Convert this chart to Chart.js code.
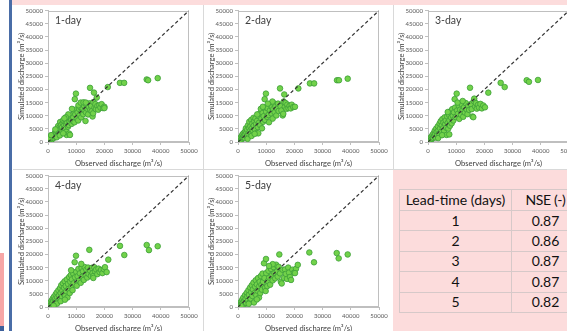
<!DOCTYPE html>
<html>
<head>
<meta charset="utf-8">
<script src="https://cdn.jsdelivr.net/npm/chart.js@4/dist/chart.umd.min.js"></script>
<style>
  html,body{margin:0;padding:0;}
  body{width:567px;height:331px;overflow:hidden;position:relative;background:#fff;font-family:Lato,"Open Sans",sans-serif;}
  .abs{position:absolute;}
  .panel{position:absolute;width:190px;height:164px;}
  .panel canvas{position:absolute;left:0;top:0;}
  .plabel{position:absolute;font-size:10.5px;color:#404040;white-space:nowrap;}
  table.nse{position:absolute;left:399px;top:189px;width:180px;table-layout:fixed;border-collapse:collapse;font-size:14px;color:#111;background:#fcdcdc;white-space:nowrap;}
  table.nse td{border:1px solid #d6c9c9;text-align:center;padding:0;height:20.4px;line-height:18px;box-sizing:border-box;overflow:visible;}
</style>
</head>
<body>
<script>
// ---- data ----
const panelLabels = ['1-day', '2-day', '3-day', '4-day', '5-day'];
const axisTicksX = [0, 10000, 20000, 30000, 40000, 50000];
const axisTicksY = [0, 5000, 10000, 15000, 20000, 25000, 30000, 35000, 40000, 45000, 50000];
const parityLine = [0, 50000];
const tableHeaders = ['Lead-time (days)', 'NSE (-)'];
const leadTimes = [1, 2, 3, 4, 5];
const nseValues = ['0.87', '0.86', '0.87', '0.87', '0.82'];

// observed, simulated discharge pairs (m3/s)
const day1 = [[200,300],[400,600],[600,500],[800,1200],[1000,900],[1200,1500],[1400,2200],[1500,1100],[1700,1900],[1900,2600],[2000,1500],[2200,3000],[2400,2100],[2500,3600],[2700,2600],[2900,4200],[3000,3100],[3200,2400],[3300,5000],[3500,3700],[3600,6100],[3800,4300],[4000,3300],[4100,5600],[4300,7600],[4500,4800],[4600,6400],[4800,3900],[5000,5600],[5200,7200],[5300,8200],[5500,4600],[5700,6300],[5900,7800],[6000,5300],[6200,8600],[6400,6800],[6500,3900],[6600,2700],[6800,7400],[7000,8900],[7100,5800],[7300,6500],[7500,3200],[7700,7800],[7800,2700],[8000,9500],[8200,8300],[8400,6900],[8600,10200],[8800,8000],[9000,9400],[9200,11800],[9400,7500],[9500,16300],[9700,10500],[9900,18400],[10000,12400],[10200,9000],[10500,11300],[10700,8200],[11000,12600],[11200,10200],[11500,13200],[11800,9400],[12000,11700],[12300,12800],[12500,10600],[12800,13800],[13000,12000],[13300,8000],[13500,11200],[13700,14000],[14000,12600],[14200,10500],[14500,13300],[14700,14700],[14900,20600],[15000,12200],[15300,13800],[15500,11700],[15800,9700],[16000,10900],[16100,15200],[16300,18800],[16500,13100],[16800,14400],[17000,12500],[17300,16900],[17500,13700],[17800,12300],[18200,14000],[18600,13100],[19000,14400],[19500,12900],[20000,13400],[20000,12900],[21200,20900],[25500,22500],[27000,22500],[35000,23800],[35500,23500],[38900,24300],[3100,1800],[4200,2500],[5400,3300],[600,1500],[1100,2600],[2600,4800],[7200,10500],[8500,12600],[10800,14000],[11600,15000],[12600,15100],[13400,15000],[6300,9400],[5800,9000]];
const day2 = [[300,500],[500,300],[700,1100],[900,1600],[1100,800],[1300,2300],[1500,1400],[1600,2900],[1800,1800],[2000,3400],[2100,2300],[2300,1600],[2500,4000],[2600,2900],[2800,5200],[3000,3500],[3100,2200],[3300,4600],[3500,6300],[3700,3100],[3900,5300],[4000,7700],[4200,4100],[4400,6000],[4600,3300],[4700,8400],[4900,5100],[5100,7000],[5300,4300],[5500,9200],[5600,6200],[5800,7900],[6000,4900],[6200,9000],[6400,6900],[6600,3400],[6800,8100],[7000,5700],[7200,3300],[7300,9900],[7500,7400],[7700,10800],[7900,6400],[8100,12600],[8300,8800],[8500,5200],[8700,11000],[8900,7700],[9100,9800],[9300,13000],[9450,16300],[9600,8400],[9900,18400],[10000,11500],[10300,9600],[10500,12800],[10800,10300],[11000,7500],[11300,12000],[11500,14200],[11800,10900],[12000,13300],[12300,8900],[12500,12500],[12800,14700],[13000,11300],[13300,13500],[13600,10100],[13900,12600],[14200,14600],[14400,11800],[14900,20400],[15100,13600],[15400,12000],[15850,10100],[16060,10700],[16200,15400],[16400,18100],[16600,13400],[16900,14800],[17200,12600],[17500,14200],[17900,12900],[18300,13800],[18700,12800],[19050,14200],[19600,13300],[20200,13400],[21400,20400],[25500,22300],[27000,22300],[35100,23500],[35800,23500],[38900,24100],[3400,1200],[4800,2300],[5900,3100],[12200,15400],[10600,14600],[8800,13400],[6800,10500]];
const day3 = [[200,400],[400,900],[600,300],[800,1500],[1000,700],[1200,2000],[1400,1200],[1600,2700],[1800,1600],[2000,3300],[2200,2200],[2400,4300],[2600,3000],[2700,1700],[2900,5100],[3100,3800],[3300,2600],[3500,6000],[3700,4400],[3900,3100],[4100,7000],[4300,5200],[4500,7900],[4700,3900],[4900,6300],[5100,8700],[5300,5200],[5500,7400],[5700,4300],[5900,9400],[6100,6800],[6300,8200],[6500,5400],[6600,2700],[6800,9700],[7000,7300],[7200,5100],[7550,2900],[7400,10400],[7600,8300],[7800,6200],[8000,11700],[8200,9300],[8400,7100],[8600,12500],[8800,10000],[9000,8200],[9200,11300],[9450,16300],[9600,13100],[9800,9500],[10170,18400],[10300,12000],[10600,10700],[10900,13800],[11100,8800],[11400,12300],[11700,10400],[12000,14300],[12200,12000],[12500,9600],[12800,13200],[13100,11200],[13400,14800],[13700,12400],[14000,10600],[14300,13700],[14600,12200],[14900,20650],[15200,14400],[15500,12500],[15800,9700],[16070,9440],[16200,15600],[16400,16500],[16700,13500],[17000,14800],[17300,12700],[17700,14100],[18100,13100],[18600,14500],[19100,12800],[19600,13900],[20200,13200],[21380,18770],[25770,22500],[27190,20900],[35000,23500],[35800,22900],[39000,23600],[3600,1500],[5000,2600],[10500,15000],[12300,15600],[7000,11400]];
const day4 = [[300,600],[500,1200],[700,400],[900,1800],[1100,1000],[1300,2500],[1500,1500],[1700,3200],[1900,2100],[2100,3900],[2300,1400],[2500,3000],[2700,4800],[2900,2400],[3100,5500],[3300,3700],[3500,2000],[3700,6400],[3900,4400],[4100,3000],[4300,7200],[4500,5300],[4700,8300],[4900,3900],[5100,6200],[5300,9000],[5500,5000],[5700,7300],[5900,9800],[6100,4200],[6300,8000],[6500,6000],[6700,10500],[6900,3600],[7100,8800],[7300,6900],[7500,11400],[7700,5300],[7900,9600],[8100,12200],[8300,7800],[8500,10500],[8700,6400],[8900,12800],[9100,9000],[9450,17050],[9600,11300],[9930,19510],[10000,13400],[10200,8100],[10500,11700],[10800,14500],[11000,10000],[11300,12800],[11600,9200],[11900,14800],[12100,11500],[12400,13600],[12700,10300],[13000,15200],[13300,12200],[13600,14200],[13900,11200],[14200,15000],[14400,12600],[14650,21750],[14900,13900],[15200,11800],[15500,14900],[15800,12900],[16070,11790],[16070,11050],[16400,15150],[16700,13600],[17100,14300],[17500,12500],[17900,14600],[18300,13300],[18800,14100],[19300,12900],[19800,14400],[20200,15150],[20800,13280],[21380,18020],[25530,23250],[27060,19780],[35000,23600],[35800,21640],[38900,23130],[3200,1300],[4500,2200],[6000,2800],[11800,16400],[8200,14000],[2000,500]];
const day5 = [[300,700],[500,200],[700,1400],[900,600],[1100,2000],[1300,1100],[1500,2800],[1700,1600],[1900,3600],[2100,900],[2300,2300],[2500,4500],[2700,3100],[2900,1500],[3100,5400],[3300,3900],[3500,2400],[3700,6400],[3900,4600],[4100,1800],[4300,7400],[4500,3200],[4700,5600],[4900,8300],[5100,4200],[5300,6700],[5500,9300],[5670,1720],[5900,5300],[6100,7700],[6300,10200],[6500,4500],[6700,8600],[6900,6200],[7100,11000],[7450,3580],[7500,7800],[7700,9600],[7900,5300],[8100,11800],[8300,8400],[8500,6600],[8700,12700],[8900,9600],[9220,16640],[9400,11000],[9600,7300],[9810,6090],[9930,18280],[10000,12900],[10390,7950],[10600,9900],[10800,13800],[11100,11200],[11400,8500],[11700,14500],[12000,12000],[12300,10100],[12600,15200],[12900,12900],[13200,10900],[13500,16100],[13800,13500],[14100,11600],[14400,15300],[14650,20000],[14900,12800],[15200,9600],[15500,8960],[15800,14200],[16310,11040],[16670,14290],[17000,12600],[17400,10700],[17800,15000],[18100,13100],[18440,11420],[18800,10300],[19300,14200],[19860,13060],[20570,14550],[20210,12900],[21200,16040],[25290,20750],[26950,17010],[35000,20520],[35700,18510],[38900,20000],[1200,300],[3800,1200],[12300,16300],[11000,15600],[6700,2900]];

const panelData = [day1, day2, day3, day4, day5];
const panelPos = [[13,5],[203,5],[393,5],[13,170],[203,170]];

// ---- page decoration ----
function box(l,t,w,h,bg){const d=document.createElement('div');d.className='abs';Object.assign(d.style,{left:l+'px',top:t+'px',width:w+'px',height:h+'px',background:bg});document.body.appendChild(d);return d;}
box(12,0,555,5,'#fcdcdc');
box(9,0,2.5,331,'#4a6da7');
box(0,253,4,73,'#f7a6a6');
box(0,326,4,5,'#3d5f9a');
box(393,170,174,161,'#fcdcdc');
box(203,5,1,326,'#d9d9d9');
box(393,5,1,164,'#d9d9d9');
box(13,169,554,1,'#d9d9d9');

const boxPlugin = {
  id:'plotBox',
  beforeDatasetsDraw(chart){
    const a = chart.chartArea, ctx = chart.ctx;
    ctx.save();
    ctx.strokeStyle = '#bfbfbf';
    ctx.lineWidth = 1;
    ctx.strokeRect(Math.round(a.left)+0.5, Math.round(a.top)+0.5, Math.round(a.right-a.left)-1, Math.round(a.bottom-a.top)-1);
    ctx.restore();
  }
};

const tickFont = {family:'Lato', size:6};
const titleFont = {family:'Lato', size:7.6};

panelData.forEach((pts, i) => {
  const [px, py] = panelPos[i];
  const wrap = document.createElement('div');
  wrap.className = 'panel';
  wrap.style.left = px + 'px';
  wrap.style.top = py + 'px';
  const cv = document.createElement('canvas');
  cv.width = 190; cv.height = 164;
  cv.style.width = '190px'; cv.style.height = '164px';
  wrap.appendChild(cv);
  const lab = document.createElement('div');
  lab.className = 'plabel';
  lab.style.left = '42px';
  lab.style.top = '9px';
  lab.textContent = panelLabels[i];
  wrap.appendChild(lab);
  document.body.appendChild(wrap);

  new Chart(cv, {
    type: 'scatter',
    data: {
      datasets: [
        {
          type: 'line',
          data: parityLine.map(v => ({x: v, y: v})),
          borderColor: '#333333',
          borderWidth: 1.2,
          borderDash: [3.5, 2.5],
          pointRadius: 0,
          fill: false
        },
        {
          data: pts.map(p => ({x: p[0], y: p[1]})),
          backgroundColor: '#72d24a',
          borderColor: '#3c9e38',
          borderWidth: 0.8,
          pointRadius: 2.8
        }
      ]
    },
    options: {
      responsive: false,
      animation: false,
      devicePixelRatio: 1,
      layout: {padding: {left: 2, right: 14, top: 3, bottom: 0}},
      plugins: {legend: {display: false}, tooltip: {enabled: false}},
      scales: {
        x: {
          type: 'linear', min: 0, max: 50000,
          afterBuildTicks(s){ s.ticks = axisTicksX.map(v => ({value: v})); },
          ticks: {font: tickFont, color: '#595959', maxRotation: 0, autoSkip: false, padding: 2, callback: v => String(v)},
          grid: {drawOnChartArea: false, drawTicks: true, tickLength: 3, color: '#bfbfbf'},
          border: {color: '#bfbfbf'},
          title: {display: true, text: 'Observed discharge (m³/s)', font: titleFont, color: '#404040', padding: {top: 1, bottom: 1}},
          afterFit(s){ s.height = 27; }
        },
        y: {
          type: 'linear', min: 0, max: 50000,
          afterBuildTicks(s){ s.ticks = axisTicksY.map(v => ({value: v})); },
          ticks: {font: tickFont, color: '#595959', autoSkip: false, padding: 2, callback: v => String(v)},
          grid: {drawOnChartArea: false, drawTicks: true, tickLength: 3, color: '#bfbfbf'},
          border: {color: '#bfbfbf'},
          title: {display: true, text: 'Simulated discharge (m³/s)', font: titleFont, color: '#404040', padding: {top: 2, bottom: 1}},
          afterFit(s){ s.width = 33; }
        }
      }
    },
    plugins: [boxPlugin]
  });
});

// ---- table ----
const tbl = document.createElement('table');
tbl.className = 'nse';
const hr = tbl.insertRow();
tableHeaders.forEach((h, j) => {
  const c = hr.insertCell(); c.textContent = h;
  c.style.width = j === 0 ? '112px' : '68px';
  c.style.height = '21px';
  if (j === 1) c.style.letterSpacing = '-0.4px';
});
leadTimes.forEach((lt, k) => {
  const r = tbl.insertRow();
  const c1 = r.insertCell(); c1.textContent = String(lt);
  const c2 = r.insertCell(); c2.textContent = nseValues[k];
});
document.body.appendChild(tbl);
</script>
</body>
</html>
